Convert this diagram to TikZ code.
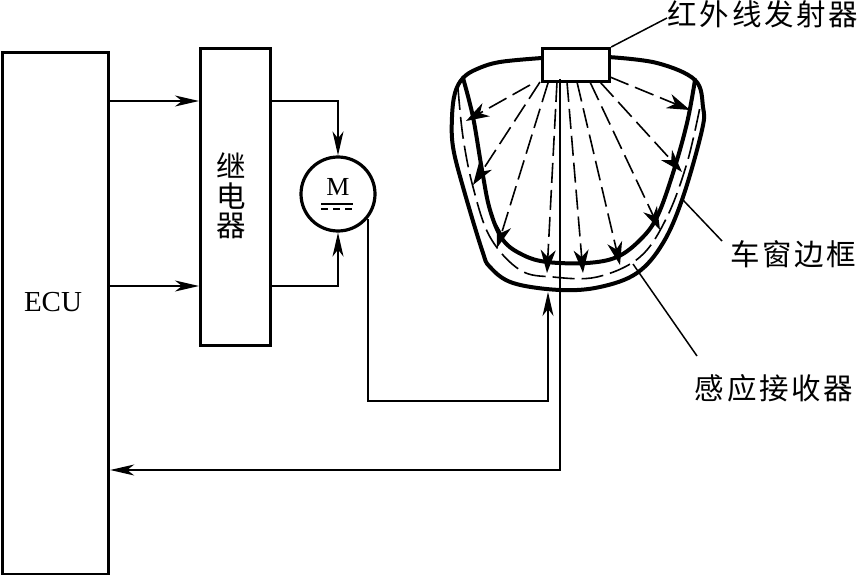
\documentclass[tikz,border=0pt]{standalone}
\usepackage{fontspec}
\usepackage{tikz}
\usetikzlibrary{arrows.meta,positioning,calc}
\newfontfamily\cjk[LetterSpace=9]{Noto Sans CJK SC}
\newfontfamily\latn{Liberation Serif}
\definecolor{ink}{HTML}{000000}

\begin{document}
\begin{tikzpicture}[x=1pt,y=-1pt,
  block/.style={draw=ink,line width=3.2pt,inner sep=0pt,anchor=north west,fill=white},
  wire/.style={draw=ink,line width=1.5pt},
  feed/.style={wire,-{Stealth[length=24pt,width=11pt,inset=7pt]}},
  rim/.style={draw=ink,line width=4pt,line cap=round},
  beam/.style={draw=ink,line width=1.6pt,dash pattern=on 20pt off 7pt,-{Stealth[length=23pt,width=15pt,inset=7pt]}},
  coil/.style={draw=ink,line width=1.6pt,dash pattern=on 22pt off 7pt},
  lab/.style={font=\cjk\fontsize{29.5}{31}\selectfont,text=ink,inner sep=0pt},
  sym/.style={font=\latn\fontsize{29}{31}\selectfont,text=ink,inner sep=0pt}]
\useasboundingbox (0,0) rectangle (859,575);
\fill[white] (0,0) rectangle (859,575);

% window frame
\draw[rim] plot[smooth,tension=0.6] coordinates {(463,78) (473,117) (482,170) (490,210) (503,240) (523,255) (547,262) (587,263) (617,257) (640,240) (657,217) (673,173) (687,123) (695,80)};
\draw[coil] plot[smooth,tension=0.6] coordinates {(458,88) (463,137) (473,187) (490,237) (520,270) (553,277) (597,277) (640,257) (667,217) (687,163) (700,107)};
\draw[rim] plot[smooth,tension=0.6] coordinates {(542,58) (500,62) (477,69) (463,78) (455,93) (452,117) (453,147) (463,187) (482,250) (490,267) (513,283) (560,290) (600,287) (637,273) (663,243) (683,197) (702,130) (703,107) (695,80) (657,63) (608,57)};

% blocks
\node[block,minimum width=106pt,minimum height=522pt] (ecu) at (1,51) {};
\node[sym] (ecutxt) at (53,302) {ECU};
\node[block,minimum width=70pt,minimum height=297pt] (relay) at (199,47) {};
\node[lab] (relaya) at (231,165) {继};
\node[lab] (relayb) at (231,196) {电};
\node[lab] (relayc) at (231,226) {器};
\node[block,circle,anchor=center,minimum size=74pt] (motor) at (338,194) {};
\node[sym,font=\latn\fontsize{26}{28}\selectfont] (mtxt) at (338,187) {M};
\node[block,minimum width=67pt,minimum height=33pt] (emitter) at (541,47) {};

% wires
\coordinate (relayup) at (relay.east |- 0,101);
\coordinate (relaydn) at (relay.east |- 0,286);
\coordinate (motorout) at (368,219);
\coordinate (wirecorner) at (368,401);
\coordinate (sense) at (548,292);
\coordinate (rxtop) at (560,79);
\coordinate (rxlow) at (560,470);
\draw[feed] (ecu.east |- relayup) -- (relay.west |- relayup);
\draw[feed] (ecu.east |- relaydn) -- (relay.west |- relaydn);
\draw[feed] (relayup) -| (motor.north);
\draw[feed] (relaydn) -| (motor.south);
\draw[feed] (motorout) -- (wirecorner) -| (sense);
\draw[feed] (rxtop) -- (rxlow) -- (ecu.east |- rxlow);
\draw[wire] (321,204) -- (353,204);
\draw[wire,dash pattern=on 7pt off 5pt] (321,209) -- (353,209);

% beams
\draw[beam] (530,85) -- (466,121);
\draw[beam] (540,82) -- (473,185);
\draw[beam] (548,83) -- (497,248);
\draw[beam] (557,82) -- (547,273);
\draw[beam] (567,82) -- (583,273);
\draw[beam] (577,82) -- (620,265);
\draw[beam] (590,82) -- (660,230);
\draw[beam] (600,82) -- (682,172);
\draw[beam] (610,77) -- (690,110);

% labels
\node[lab] (emittertxt) at (763,14) {红外线发射器};
\node[lab] (frametxt) at (793,254) {车窗边框};
\node[lab] (rxtxt) at (774,388) {感应接收器};
\draw[wire] (emitter.north east) -- (667,18);
\draw[wire] (683,200) -- (722,241);
\draw[wire] (633,264) -- (697,356);
\end{tikzpicture}
\end{document}
